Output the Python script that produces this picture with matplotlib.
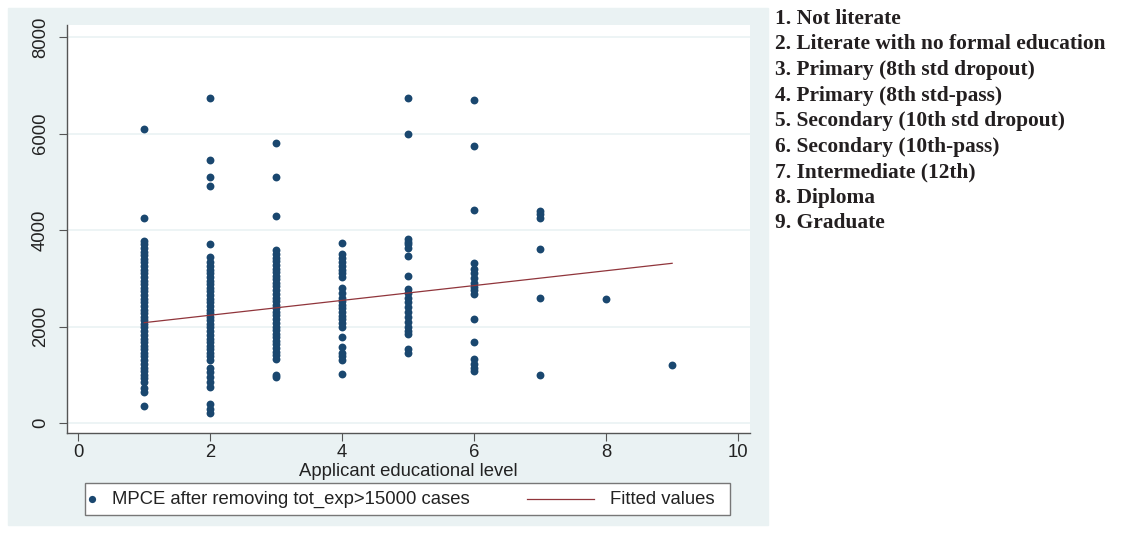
import numpy as np
import matplotlib.pyplot as plt
from matplotlib.patches import Rectangle
from matplotlib.lines import Line2D

# MPCE values, one list per education level
lvl1 = [6100, 4250, 3780, 3700, 3620, 3550, 3480, 3400, 3330, 3250, 3180, 3100, 3030,
        2950, 2880, 2800, 2730, 2650, 2580, 2500, 2430, 2350, 2280, 2200, 2130, 2050,
        1980, 1900, 1830, 1750, 1680, 1600, 1530, 1450, 1380, 1300, 1230, 1150, 1080,
        1000, 930, 850, 730, 650, 350]
lvl2 = [6730, 5450, 5100, 4920, 3720, 3450, 3330, 3250, 3180, 3100, 3030, 2950, 2880,
        2800, 2730, 2650, 2580, 2500, 2430, 2350, 2280, 2200, 2130, 2050, 1980, 1900,
        1830, 1750, 1680, 1600, 1530, 1450, 1380, 1310, 1150, 1050, 950, 850, 750,
        400, 300, 200]
lvl3 = [5800, 5100, 4300, 3580, 3500, 3430, 3350, 3280, 3200, 3130, 3050, 2980, 2900,
        2830, 2750, 2680, 2600, 2530, 2450, 2380, 2300, 2230, 2150, 2080, 2000, 1930,
        1850, 1780, 1700, 1630, 1550, 1480, 1400, 1330, 1000, 950]
lvl4 = [3730, 3500, 3420, 3340, 3260, 3180, 3100, 3030, 2800, 2700, 2600, 2530, 2450,
        2380, 2300, 2220, 2150, 2070, 2000, 1780, 1580, 1450, 1380, 1300, 1020]
lvl5 = [6730, 6000, 3820, 3760, 3700, 3620, 3470, 3050, 2780, 2700, 2600, 2500, 2400,
        2300, 2200, 2100, 2000, 1900, 1850, 1530, 1450]
lvl6 = [6700, 5750, 4420, 3320, 3200, 3100, 3000, 2900, 2820, 2750, 2680, 2150, 1680,
        1320, 1230, 1150, 1080]
lvl7 = [4400, 4330, 4250, 3600, 2600, 1000]
lvl8 = [2580]
lvl9 = [1200]
levels = [lvl1, lvl2, lvl3, lvl4, lvl5, lvl6, lvl7, lvl8, lvl9]

# fitted line end points
fit_x = [1, 9]
fit_y = [2080, 3310]

edu_labels = ["1. Not literate",
              "2. Literate with no formal education",
              "3. Primary (8th std dropout)",
              "4. Primary (8th std-pass)",
              "5. Secondary (10th std dropout)",
              "6. Secondary (10th-pass)",
              "7. Intermediate (12th)",
              "8. Diploma",
              "9. Graduate"]

W, H = 1123, 542
plt.rcParams['font.family'] = ['Liberation Sans', 'DejaVu Sans']
fig = plt.figure(figsize=(W / 100, H / 100), dpi=100)

def fx(px):
    return px / W

def fy(py):
    return 1 - py / H

fs = 13.3  # stata text size
txt_col = '#222222'

# stata style gray-blue graph region
fig.patches.append(Rectangle((fx(8), fy(525)), 760 / W, 517 / H,
                             transform=fig.transFigure, color='#EAF2F3', zorder=-5))

ax = fig.add_axes([fx(67), fy(433), 683 / W, 408 / H])
ax.set_zorder(2)
ax.set_facecolor('white')

navy = '#1A476F'
maroon = '#90353B'

for i, vals in enumerate(levels):
    ax.scatter([i + 1] * len(vals), vals, s=32, color=navy, linewidths=0, zorder=3)
ax.plot(fit_x, fit_y, color=maroon, lw=0.9, zorder=4)

ax.set_xlim(-0.17, 10.18)
ax.set_ylim(-207, 8249)
ax.set_xticks([0, 2, 4, 6, 8, 10])
ax.set_yticks([0, 2000, 4000, 6000, 8000])
ax.set_yticklabels(['0', '2000', '4000', '6000', '8000'], rotation=90, va='center')
for y in [0, 2000, 4000, 6000, 8000]:
    ax.axhline(y, color='#EAF2F3', lw=1.2, zorder=1)

for s in ['top', 'right']:
    ax.spines[s].set_visible(False)
for s in ['left', 'bottom']:
    ax.spines[s].set_color('#555555')
    ax.spines[s].set_linewidth(1.0)
ax.tick_params(axis='both', length=6, width=0.8, color='#555555',
               labelsize=fs, labelcolor=txt_col)
ax.tick_params(axis='y', pad=7)
ax.tick_params(axis='x', pad=2)
ax.set_xlabel('Applicant educational level', fontsize=fs, color=txt_col, labelpad=1)

# legend box below the plot, drawn by hand like stata's
fig.patches.append(Rectangle((fx(85), fy(515)), 645 / W, 32 / H, transform=fig.transFigure,
                             facecolor='white', edgecolor='#777777', lw=1.0, zorder=1))
fig.lines.append(Line2D([fx(92)], [fy(499)], transform=fig.transFigure, marker='o',
                        markersize=5.2, color=navy, markeredgewidth=0, zorder=2))
fig.text(fx(112), fy(499), 'MPCE after removing tot_exp>15000 cases', fontsize=fs,
         color=txt_col, ha='left', va='center')
fig.lines.append(Line2D([fx(527), fx(594)], [fy(499), fy(499)], transform=fig.transFigure,
                        color=maroon, lw=0.9, zorder=2))
fig.text(fx(610), fy(499), 'Fitted values', fontsize=fs, color=txt_col,
         ha='left', va='center')

# level descriptions on the right
for k, lab in enumerate(edu_labels):
    fig.text(fx(775), fy(19 + 25.5 * k), lab, fontsize=15.4, fontweight='bold',
             family='Liberation Serif', color='#231F20', ha='left', va='center')

fig.savefig('out.png', dpi=100)
